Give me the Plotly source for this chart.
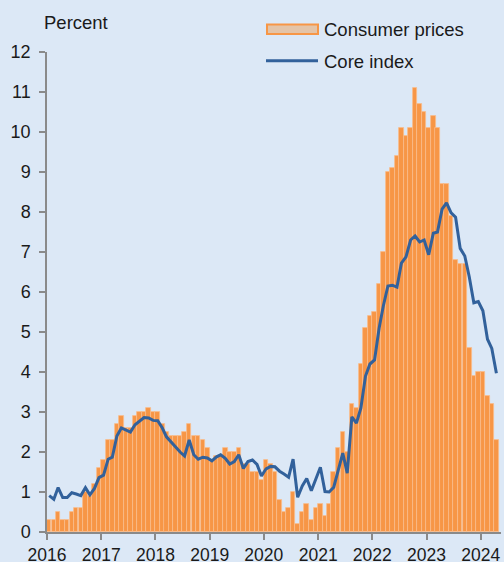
import pandas as pd
import plotly.graph_objects as go

# Monthly observations, Jan 2016 - Apr 2024
start_month = "2016-01-01"
n_months = 100

consumer_prices = [
    0.3, 0.3, 0.5, 0.3, 0.3, 0.5, 0.6, 0.6, 1.0, 0.9, 1.2, 1.6,
    1.8, 2.3, 2.3, 2.7, 2.9, 2.6, 2.6, 2.9, 3.0, 3.0, 3.1, 3.0,
    3.0, 2.7, 2.5, 2.4, 2.4, 2.4, 2.5, 2.7, 2.4, 2.4, 2.3, 2.1,
    1.8, 1.9, 1.9, 2.1, 2.0, 2.0, 2.1, 1.7, 1.7, 1.5, 1.5, 1.3,
    1.8, 1.7, 1.5, 0.8, 0.5, 0.6, 1.0, 0.2, 0.5, 0.7, 0.3, 0.6,
    0.7, 0.4, 0.7, 1.5, 2.1, 2.5, 2.0, 3.2, 3.1, 4.2, 5.1, 5.4,
    5.5, 6.2, 7.0, 9.0, 9.1, 9.4, 10.1, 9.9, 10.1, 11.1, 10.7, 10.5,
    10.1, 10.4, 10.1, 8.7, 8.7, 7.9, 6.8, 6.7, 6.7, 4.6, 3.9, 4.0,
    4.0, 3.4, 3.2, 2.3,
]

core_index = [
    0.91, 0.82, 1.11, 0.86, 0.86, 0.98, 0.95, 0.91, 1.11, 0.93, 1.09, 1.36,
    1.42, 1.82, 1.87, 2.40, 2.60, 2.55, 2.50, 2.68, 2.78, 2.86, 2.85, 2.79,
    2.78, 2.60, 2.38, 2.25, 2.15, 2.00, 1.90, 2.30, 1.93, 1.82, 1.87, 1.85,
    1.78, 1.88, 1.93, 1.84, 1.70, 1.76, 1.93, 1.59, 1.76, 1.80, 1.69, 1.40,
    1.58, 1.64, 1.63, 1.52, 1.45, 1.37, 1.82, 0.87, 1.15, 1.34, 1.03, 1.34,
    1.62, 1.01, 1.00, 1.12, 1.55, 1.97, 1.47, 2.88, 2.72, 3.10, 3.90, 4.20,
    4.30, 5.10, 5.65, 6.15, 6.17, 6.12, 6.72, 6.88, 7.30, 7.40, 7.25, 7.30,
    6.93, 7.47, 7.50, 8.07, 8.23, 7.98, 7.87, 7.09, 6.90, 6.38, 5.73, 5.76,
    5.53, 4.82, 4.59, 3.97,
]

y_ticks = list(range(0, 13))
year_ticks = [str(y) for y in range(2016, 2025)]

months = pd.date_range(start_month, periods=n_months, freq="MS")
mid_months = months + pd.Timedelta(days=15)

FONT = "Liberation Sans, Arial, sans-serif"
TXT = "#1a1a1a"
BG = "#DCE8F6"
BAR = "#F79646"
BAR_EDGE = "#F9BC8C"
LINE = "#32619B"
AXIS = "#8a8a8a"

fig = go.Figure()
fig.add_trace(go.Bar(
    x=mid_months, y=consumer_prices, name="Consumer prices",
    width=[30.4 * 24 * 3600 * 1000] * n_months,
    marker=dict(color=BAR, line=dict(color=BAR_EDGE, width=0.8)),
    showlegend=False,
))
fig.add_trace(go.Scatter(
    x=mid_months, y=core_index, name="Core index", mode="lines",
    line=dict(color=LINE, width=3), showlegend=False,
))

L, R, T, B = 47, 3, 52, 30
W, H = 504, 562
pw, ph = W - L - R, H - T - B


def px(x):
    return (x - L) / pw


def py(y):
    return (H - B - y) / ph


shapes = [
    dict(type="rect", xref="paper", yref="paper",
         x0=px(267), x1=px(318), y0=py(34), y1=py(24.5),
         fillcolor="#E4C4A8", line=dict(color=BAR, width=2)),
    dict(type="line", xref="paper", yref="paper",
         x0=px(266), x1=px(318), y0=py(60.7), y1=py(60.7),
         line=dict(color=LINE, width=3)),
]
annotations = [
    dict(text="Consumer prices", xref="paper", yref="paper", x=px(322), y=py(29.5),
         xanchor="left", yanchor="middle", showarrow=False,
         font=dict(family=FONT, size=18.5, color=TXT)),
    dict(text="Core index", xref="paper", yref="paper", x=px(322), y=py(61),
         xanchor="left", yanchor="middle", showarrow=False,
         font=dict(family=FONT, size=18.5, color=TXT)),
    dict(text="Percent", xref="paper", yref="paper", x=px(42), y=py(22.5),
         xanchor="left", yanchor="middle", showarrow=False,
         font=dict(family=FONT, size=18.5, color=TXT)),
]

fig.update_layout(
    width=W, height=H,
    margin=dict(l=L, r=R, t=T, b=B, pad=0, autoexpand=False),
    paper_bgcolor=BG, plot_bgcolor=BG,
    bargap=0,
    font=dict(family=FONT, size=18, color=TXT),
    shapes=shapes, annotations=annotations,
    showlegend=False,
)
fig.update_xaxes(
    type="date",
    range=["2016-01-01", "2024-05-17"],
    tickvals=[pd.Timestamp(f"{y}-01-01") for y in year_ticks],
    ticktext=year_ticks,
    ticks="outside", ticklen=6, tickcolor=AXIS, tickwidth=1.5,
    showline=True, linecolor=AXIS, linewidth=1.5,
    showgrid=False, zeroline=False, automargin=False,
    ticklabelstandoff=0,
    tickfont=dict(family=FONT, size=17.5, color=TXT),
)
fig.update_yaxes(
    range=[0, 12],
    tickvals=y_ticks,
    ticks="outside", ticklen=6, tickcolor=AXIS, tickwidth=1.5,
    showline=True, linecolor=AXIS, linewidth=1.5,
    showgrid=False, zeroline=False, automargin=False,
    ticklabelstandoff=5,
    tickfont=dict(family=FONT, size=18, color=TXT),
)

fig.write_html(
    "out.html",
    config={"displayModeBar": False},
    post_script="document.body.style.margin='0';document.body.style.overflow='hidden';",
)
